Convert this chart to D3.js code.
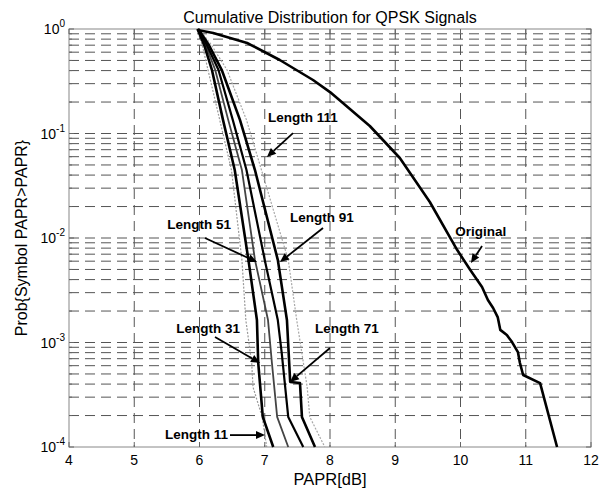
<!DOCTYPE html>
<html><head><meta charset="utf-8">
<script src="https://cdn.jsdelivr.net/npm/d3@7"></script>
<style>body{margin:0;background:#fff}</style>
</head><body>
<svg id="c" width="611" height="493"></svg>
<script>
const title = "Cumulative Distribution for QPSK Signals";
const xLabel = "PAPR[dB]";
const yLabel = "Prob{Symbol PAPR>PAPR}";
const xTicks = [4, 5, 6, 7, 8, 9, 10, 11, 12];
const yDecades = [0, -1, -2, -3, -4];

const origX = [5.97,6.21,6.73,7.23,7.74,8.00,8.61,9.07,9.53,9.95,10.15,10.33,10.42,10.50,10.57,10.61,10.71,10.79,10.88,10.91,10.96,11.22,11.48];
const origY = [0.98,0.916,0.735,0.505,0.325,0.249,0.118,0.0583,0.0221,0.00767,0.00494,0.0034,0.00255,0.00214,0.00175,0.00132,0.00118,0.00101,0.00081,0.00064,0.000489,0.000409,0.0001];

const len11X = [5.96,6.04,6.13,6.31,6.49,6.65,6.71,6.80,6.82,6.96,7.03];
const len11Y = [1,0.708,0.407,0.135,0.0447,0.00617,0.00164,0.000637,0.000375,0.000194,0.0001];
const len31X = [5.97,6.07,6.19,6.36,6.54,6.75,6.88,6.90,6.97,7.13];
const len31Y = [1,0.708,0.407,0.135,0.0447,0.00617,0.00164,0.000637,0.000194,0.0001];
const len51X = [5.97,6.09,6.24,6.44,6.65,6.85,7.05,7.11,7.19,7.36];
const len51Y = [1,0.708,0.407,0.135,0.0447,0.00617,0.00164,0.000637,0.000194,0.0001];
const len71X = [5.98,6.11,6.29,6.51,6.72,7.00,7.20,7.26,7.36,7.59];
const len71Y = [1,0.708,0.407,0.135,0.0447,0.00617,0.00164,0.000794,0.000194,0.0001];
const len91X = [5.98,6.14,6.34,6.62,6.85,7.20,7.34,7.39,7.54,7.57,7.77];
const len91Y = [1,0.708,0.407,0.135,0.0447,0.00617,0.00164,0.000419,0.000409,0.000194,0.0001];
const len111X = [5.99,6.18,6.42,6.72,6.95,7.36,7.49,7.65,7.69,7.92];
const len111Y = [1,0.708,0.407,0.135,0.0447,0.00617,0.00164,0.000375,0.000194,0.0001];

const labelText = ["Length 111","Length 51","Length 91","Length 31","Length 71","Length 11","Original"];
const labelX = [7.05, 6.483, 7.387, 6.621, 7.77, 6.437, 9.92];
const labelY = [0.129, 0.0122, 0.01423, 0.00123, 0.00123, 0.000119, 0.0104];
const labelAnchor = ["start","end","start","end","start","end","start"];
const arrowFromX = [7.433, 6.084, 7.893, 6.238, 8.0, 6.467, 10.33];
const arrowFromY = [0.101, 0.0100, 0.01247, 0.00113, 0.000886, 0.000130, 0.00838];
const arrowToX = [7.034, 6.881, 7.234, 6.927, 7.387, 7.004, 10.16];
const arrowToY = [0.0596, 0.00589, 0.00589, 0.000637, 0.000419, 0.000130, 0.00577];

const M = {left: 69, right: 591, top: 29, bottom: 447};
const svg = d3.select("#c");
const font = "Liberation Sans, Arial, sans-serif";

const x = d3.scaleLinear().domain([4, 12]).range([M.left, M.right]);
const y = d3.scaleLog().domain([1e-4, 1]).range([M.bottom, M.top]);

// grid
const g = svg.append("g");
const minorY = [];
yDecades.forEach(d => { if (d < 0) for (let k = 1; k <= 9; k++) minorY.push(k * Math.pow(10, d)); });
g.selectAll("line.hg").data(minorY.filter(v => v > 1e-4 && v < 1)).join("line")
  .attr("x1", M.left).attr("x2", M.right)
  .attr("y1", d => y(d)).attr("y2", d => y(d))
  .attr("stroke", "#555").attr("stroke-width", 1).attr("stroke-dasharray", "10,6");
g.selectAll("line.vg").data(xTicks.filter(v => v > 4 && v < 12)).join("line")
  .attr("x1", d => x(d)).attr("x2", d => x(d))
  .attr("y1", M.top).attr("y2", M.bottom)
  .attr("stroke", "#555").attr("stroke-width", 1).attr("stroke-dasharray", "10,6");

// box
svg.append("rect").attr("x", M.left).attr("y", M.top)
  .attr("width", M.right - M.left).attr("height", M.bottom - M.top)
  .attr("fill", "none").attr("stroke", "#888").attr("stroke-width", 1);

// ticks
const tk = svg.append("g").attr("stroke", "#666");
xTicks.forEach(v => {
  tk.append("line").attr("x1", x(v)).attr("x2", x(v)).attr("y1", M.bottom).attr("y2", M.bottom - 5);
  tk.append("line").attr("x1", x(v)).attr("x2", x(v)).attr("y1", M.top).attr("y2", M.top + 5);
});
minorY.concat([1]).forEach(v => {
  const len = Math.abs(Math.log10(v) - Math.round(Math.log10(v))) < 1e-9 ? 5 : 3;
  tk.append("line").attr("x1", M.left).attr("x2", M.left + len).attr("y1", y(v)).attr("y2", y(v));
  tk.append("line").attr("x1", M.right).attr("x2", M.right - len).attr("y1", y(v)).attr("y2", y(v));
});

// tick labels
svg.append("g").selectAll("text").data(xTicks).join("text")
  .attr("x", d => x(d)).attr("y", M.bottom + 18)
  .attr("text-anchor", "middle").attr("font-family", font).attr("font-size", 14)
  .text(d => d);
const yl = svg.append("g").selectAll("text").data(yDecades).join("text")
  .attr("x", M.left - 4).attr("y", d => y(Math.pow(10, d)) + 5)
  .attr("text-anchor", "end").attr("font-family", font).attr("font-size", 14);
yl.append("tspan").text("10");
yl.append("tspan").attr("dy", -7).attr("font-size", 10).text(d => d);

// title & axis labels
svg.append("text").attr("x", (M.left + M.right) / 2).attr("y", 23)
  .attr("text-anchor", "middle").attr("font-family", font).attr("font-size", 16).text(title);
svg.append("text").attr("x", (M.left + M.right) / 2).attr("y", 485)
  .attr("text-anchor", "middle").attr("font-family", font).attr("font-size", 16.5).text(xLabel);
svg.append("text").attr("transform", "translate(27," + ((M.top + M.bottom) / 2) + ") rotate(-90)")
  .attr("text-anchor", "middle").attr("font-family", font).attr("font-size", 16).text(yLabel);

// curves
const line = d3.line().x(d => x(d[0])).y(d => y(d[1]));
const zip = (a, b) => a.map((v, i) => [v, b[i]]);
const series = [
  {xs: len11X, ys: len11Y, color: "#9a9a9a", w: 1.2, dash: "2,1.5"},
  {xs: len111X, ys: len111Y, color: "#a8a8a8", w: 1.2, dash: "2,1.5"},
  {xs: len51X, ys: len51Y, color: "#444", w: 1.8, dash: null},
  {xs: len71X, ys: len71Y, color: "#000", w: 2.2, dash: null},
  {xs: len31X, ys: len31Y, color: "#000", w: 2.6, dash: null},
  {xs: len91X, ys: len91Y, color: "#000", w: 2.6, dash: null},
  {xs: origX, ys: origY, color: "#000", w: 2.6, dash: null}
];
const cg = svg.append("g");
series.forEach(s => {
  cg.append("path").datum(zip(s.xs, s.ys)).attr("d", line)
    .attr("fill", "none").attr("stroke", s.color).attr("stroke-width", s.w)
    .attr("stroke-linejoin", "round")
    .attr("stroke-dasharray", s.dash);
});

// annotations
const ag = svg.append("g");
labelText.forEach((t, i) => {
  ag.append("text").attr("x", x(labelX[i])).attr("y", y(labelY[i]))
    .attr("text-anchor", labelAnchor[i]).attr("font-family", font)
    .attr("font-weight", "bold").attr("font-size", 13.5).text(t);
  const x1 = x(arrowFromX[i]), y1 = y(arrowFromY[i]);
  const x2 = x(arrowToX[i]), y2 = y(arrowToY[i]);
  const ang = Math.atan2(y2 - y1, x2 - x1);
  const hl = 9, hw = 4;
  const bx = x2 - hl * Math.cos(ang), by = y2 - hl * Math.sin(ang);
  ag.append("line").attr("x1", x1).attr("y1", y1).attr("x2", bx).attr("y2", by)
    .attr("stroke", "#000").attr("stroke-width", 1.8);
  const p = [[x2, y2],
    [bx + hw * Math.sin(ang), by - hw * Math.cos(ang)],
    [bx - hw * Math.sin(ang), by + hw * Math.cos(ang)]];
  ag.append("path").attr("d", "M" + p.map(q => q.join(",")).join("L") + "Z").attr("fill", "#000");
});
</script>
</body></html>
